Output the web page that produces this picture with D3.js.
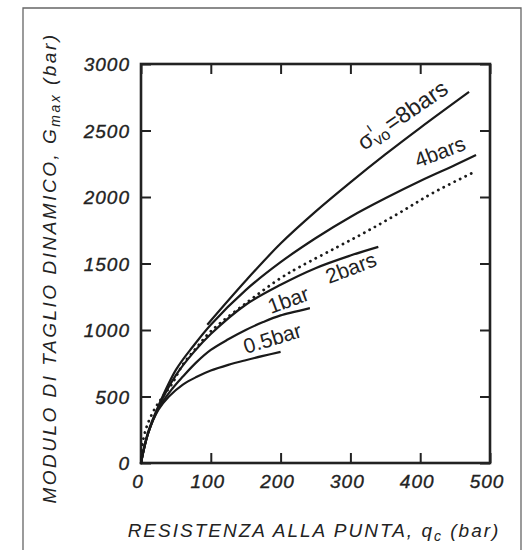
<!DOCTYPE html>
<html>
<head>
<meta charset="utf-8">
<script src="https://cdn.jsdelivr.net/npm/d3@7"></script>
<style>
  html, body { margin: 0; padding: 0; background: #fff; }
  svg { display: block; }
  text { font-family: "Liberation Sans", Arial, Helvetica, sans-serif; fill: #222; }
</style>
</head>
<body>
<svg id="chart" width="526" height="550"></svg>
<script>
// Tick values on each axis
const xTicks = [0, 100, 200, 300, 400, 500];
const yTicks = [0, 500, 1000, 1500, 2000, 2500, 3000];

// Cone resistance qc (bar) and Gmax (bar) for each effective vertical stress
const q8 = [95, 150, 200, 250, 300, 350, 400, 470];
const g8 = [1040, 1370, 1650, 1890, 2110, 2320, 2520, 2790];

const q4 = [0, 10, 25, 50, 75, 100, 150, 200, 250, 300, 350, 400, 450, 480];
const g4 = [0, 230, 430, 700, 880, 1040, 1300, 1510, 1690, 1850, 1990, 2120, 2240, 2315];

const qDot = [0, 3, 10, 20, 30, 45, 60, 80, 100, 150, 200, 228, 280, 323, 370, 418, 478];
const gDot = [0, 170, 300, 410, 490, 600, 740, 870, 990, 1200, 1390, 1476, 1620, 1740, 1880, 2030, 2190];

const q2 = [0, 10, 25, 50, 75, 100, 150, 200, 250, 300, 340];
const g2 = [0, 220, 420, 660, 830, 970, 1190, 1340, 1465, 1560, 1625];

const q1 = [0, 10, 25, 45, 60, 80, 100, 125, 150, 175, 200, 242];
const g1 = [0, 220, 410, 560, 650, 760, 850, 930, 1000, 1060, 1110, 1165];

const q05 = [0, 10, 25, 40, 60, 80, 100, 125, 150, 175, 200];
const g05 = [0, 220, 400, 500, 590, 648, 695, 738, 773, 805, 835];

const svg = d3.select("#chart");

// Plot box
const plotL = 141, plotR = 490, plotT = 64, plotB = 463;
const x = d3.scaleLinear().domain([0, 500]).range([plotL, plotR]);
const y = d3.scaleLinear().domain([0, 3000]).range([plotB, plotT]);

// Outer page frame
const frame = svg.append("g").attr("stroke", "#666").attr("stroke-width", 1.3).attr("fill", "none");
frame.append("path").attr("d", "M23,550 L23,8 L521,8 L521,550");

// Axes: ticks point inward on all four sides
const tickLen = 10;
const axisB = d3.axisBottom(x).tickValues(xTicks).tickSize(-tickLen).tickFormat("");
const axisT = d3.axisTop(x).tickValues(xTicks).tickSize(-tickLen).tickFormat("");
const axisL = d3.axisLeft(y).tickValues(yTicks).tickSize(-tickLen).tickFormat("");
const axisR = d3.axisRight(y).tickValues(yTicks).tickSize(-tickLen).tickFormat("");

function styleAxis(g) {
  g.select(".domain").remove();
  g.selectAll(".tick line").attr("stroke", "#222").attr("stroke-width", 2);
}
svg.append("g").attr("transform", `translate(0,${plotB})`).call(axisB).call(styleAxis);
svg.append("g").attr("transform", `translate(0,${plotT})`).call(axisT).call(styleAxis);
svg.append("g").attr("transform", `translate(${plotL},0)`).call(axisL).call(styleAxis);
svg.append("g").attr("transform", `translate(${plotR},0)`).call(axisR).call(styleAxis);

svg.append("rect")
  .attr("x", plotL).attr("y", plotT)
  .attr("width", plotR - plotL).attr("height", plotB - plotT)
  .attr("fill", "none").attr("stroke", "#222").attr("stroke-width", 2.6);

// Tick labels
svg.append("g").selectAll("text").data(xTicks).join("text")
  .attr("x", d => x(d) - 3).attr("y", plotB + 25)
  .attr("text-anchor", "middle")
  .attr("font-size", 19).attr("font-style", "italic").attr("letter-spacing", 1)
  .attr("stroke", "#222").attr("stroke-width", 0.35)
  .text(d => d);

svg.append("g").selectAll("text").data(yTicks).join("text")
  .attr("x", plotL - 11).attr("y", d => y(d) + 7)
  .attr("text-anchor", "end")
  .attr("font-size", 19).attr("font-style", "italic").attr("letter-spacing", 1)
  .attr("stroke", "#222").attr("stroke-width", 0.35)
  .text(d => d);

// Axis titles
const xt = svg.append("text")
  .attr("x", 314).attr("y", 537)
  .attr("text-anchor", "middle")
  .attr("font-size", 19).attr("font-style", "italic").attr("letter-spacing", 2);
xt.append("tspan").text("RESISTENZA ALLA PUNTA, q");
xt.append("tspan").attr("font-size", 14).attr("dy", 4).text("c");
xt.append("tspan").attr("dy", -4).text(" (bar)");

const yt = svg.append("text")
  .attr("transform", "translate(56,268) rotate(-90)")
  .attr("text-anchor", "middle")
  .attr("font-size", 19).attr("font-style", "italic").attr("letter-spacing", 2.5);
yt.append("tspan").text("MODULO DI TAGLIO DINAMICO, G");
yt.append("tspan").attr("font-size", 14).attr("dy", 4).text("max");
yt.append("tspan").attr("dy", -4).text(" (bar)");

// Curves
const line = d3.line().x(d => x(d[0])).y(d => y(d[1])).curve(d3.curveCatmullRom.alpha(0.5));
const pairs = (qs, gs) => qs.map((q, i) => [q, gs[i]]);

const solid = [pairs(q8, g8), pairs(q4, g4), pairs(q2, g2), pairs(q1, g1), pairs(q05, g05)];
svg.append("g").selectAll("path").data(solid).join("path")
  .attr("d", line)
  .attr("fill", "none").attr("stroke", "#1a1a1a").attr("stroke-width", 2.2);

svg.append("path")
  .attr("d", line(pairs(qDot, gDot)))
  .attr("fill", "none").attr("stroke", "#1a1a1a").attr("stroke-width", 2.8)
  .attr("stroke-linecap", "round").attr("stroke-dasharray", "0.1 6");

// Curve labels
function label(px, py, angle, size) {
  return svg.append("text")
    .attr("transform", `translate(${px},${py}) rotate(${angle})`)
    .attr("font-size", size);
}
const l8 = label(364, 151, -34.5, 23);
l8.append("tspan").text("σ");
l8.append("tspan").attr("font-size", 14).attr("dy", -12).attr("dx", 1).text("ı");
l8.append("tspan").attr("font-size", 16).attr("dy", 16).attr("dx", -5).text("vo");
l8.append("tspan").attr("dy", -4).attr("dx", 2).text("=8bars");

label(418, 168, -21, 21).text("4bars");
label(329, 284, -21, 21).text("2bars");
label(271, 314, -20, 21).text("1bar");
label(246, 354, -17, 21).text("0.5bar");
</script>
</body>
</html>
